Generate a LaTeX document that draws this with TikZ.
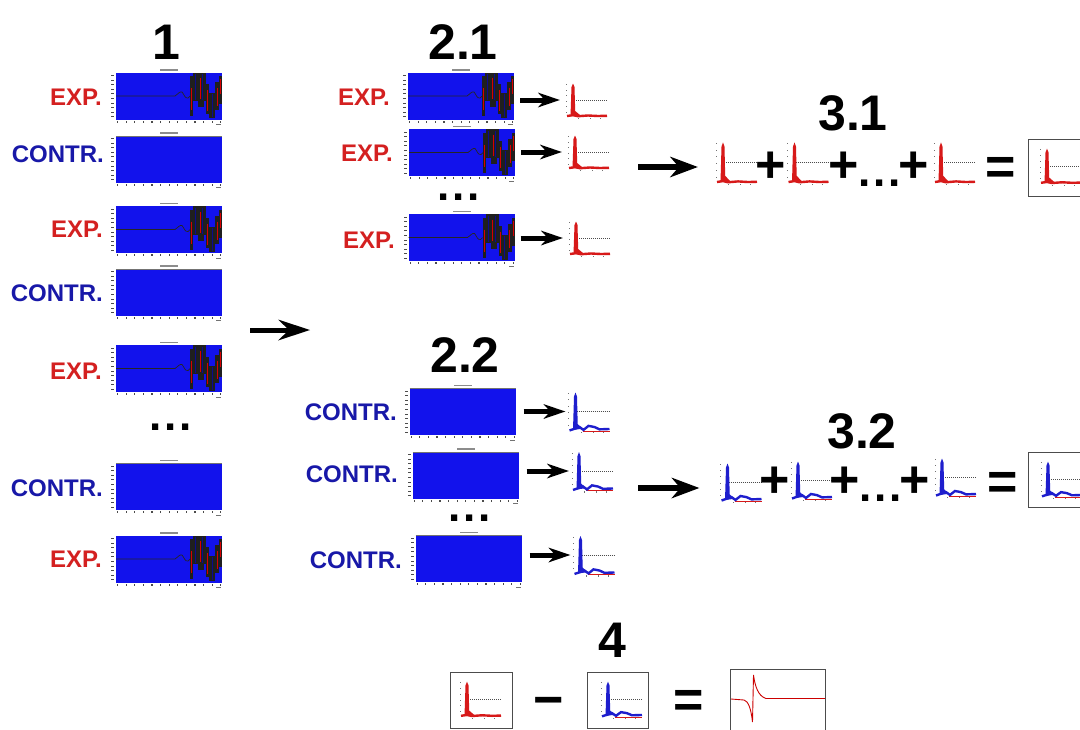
\documentclass[tikz,border=0pt]{standalone}
\usepackage{fontspec}
\setmainfont{Liberation Sans}
\usetikzlibrary{arrows.meta,calc}
\definecolor{expred}{RGB}{212,32,32}
\definecolor{contrblue}{RGB}{24,24,168}
\definecolor{plotblue}{RGB}{18,18,236}
\definecolor{spikered}{RGB}{215,25,25}
\definecolor{spikeblue}{RGB}{30,30,205}
\newcommand{\plotticks}{%
  \foreach \k in {0,...,9} \fill[black!70] (-58,{-21+\k*4.6}) rectangle (-55,{-20.2+\k*4.6});
  \foreach \k in {0,...,12} \fill[black!70] ({-52+\k*8.6},24.5) rectangle ({-50.8+\k*8.6},26.5);
  \fill[black!55] (47,28) rectangle (52,29.3);
  \fill[black!45] (-9,-26.6) rectangle (9,-25.4);
}
\newcommand{\spikecore}{%
  \node[minimum width=42pt, minimum height=36pt, inner sep=0pt] (-s) at (0,0) {};
  \foreach \k in {0,...,5} \fill[black!55] (-20.5,{-16+\k*5.5}) rectangle (-19.3,{-15.2+\k*5.5});
  \foreach \xx in {-8,4,14} \fill[black!55] (\xx,17.8) rectangle (\xx+1,18.8);
  \draw[black!70, line width=0.6pt, dash pattern=on 1.2pt off 0.8pt] (-12,0) -- (21,0);
}
\newcommand{\threedots}{\makebox[6pt]{.}\hspace{9pt}\makebox[6pt]{.}\hspace{9pt}\makebox[6pt]{.}}
\tikzset{
  plotbox/.style={fill=plotblue, minimum width=106pt, minimum height=47pt, inner sep=0pt, outer sep=0pt},
  expplot/.pic={
    \node[plotbox] (-p) at (0,0) {};
    \plotticks
    \draw[black!85, line width=0.7pt] (-53,0) -- (6,0) .. controls (9,-2) and (11,-5) .. (13,-4) .. controls (15,-2) and (16,3) .. (19,2) -- (21,0);
    \fill[black!88] (21,-20) rectangle (24,20);
    \fill[black!88] (24,-23.5) rectangle (37,5);
    \fill[black!88] (29,5) rectangle (35,11);
    \fill[black!88] (37,-12) rectangle (40,18);
    \fill[black!88] (40,-3) rectangle (46,22);
    \fill[black!88] (46,-14) rectangle (50,14);
    \fill[black!88] (50,-20) rectangle (53,8);
    \draw[plotblue!60!black, line width=0.6pt] (26.5,-22) -- (26.5,4) (33.5,-22) -- (33.5,4) (43,-2) -- (43,21);
    \draw[red!85!black, line width=1pt] (22.5,-8) -- (22.5,14) (31,-18) -- (31,3) (38.5,-6) -- (38.5,15) (48,-8) -- (48,10) (51.5,-17) -- (51.5,-2);
  },
  contrplot/.pic={
    \node[plotbox] (-p) at (0,0) {};
    \plotticks
    \draw[black!55, line width=0.9pt] (-53,-23) -- (53,-23);
  },
  rspike/.pic={
    \spikecore
    \fill[spikered] (-15.5,16) -- (-14.5,-13) -- (-13,-16.5) -- (-11.5,-13) -- (-10.8,11) -- (-6,15) -- cycle;
    \draw[spikered, line width=2.4pt] (-19,16) -- (-13,15.2) -- (-8,16.2) -- (2,15.5) -- (12,16) -- (21,15.8);
  },
  bspike/.pic={
    \spikecore
    \draw[spikered, line width=0.8pt] (-6,17.2) -- (21,17.2);
    \fill[spikeblue] (-15.5,16) -- (-14.5,-13) -- (-13,-16.5) -- (-11.5,-13) -- (-10.8,11) -- (-6,15) -- cycle;
    \draw[spikeblue, line width=2.4pt] (-19,16.5) -- (-14,15) -- (-9,13.5) -- (-5,16) -- (0,12.5) -- (6,13.5) -- (11,15.5) -- (21,15.2);
  },
  ttl/.style={font=\bfseries\fontsize{50}{50}\selectfont, inner sep=0pt},
  explbl/.style={font=\bfseries\fontsize{24}{24}\selectfont, text=expred, inner sep=0pt, anchor=east},
  contrlbl/.style={font=\bfseries\fontsize{24}{24}\selectfont, text=contrblue, inner sep=0pt, anchor=east},
  opT/.style={font=\bfseries\fontsize{52}{52}\selectfont, inner sep=0pt, anchor=base},
  dotsT/.style={font=\bfseries\fontsize{44}{44}\selectfont, inner sep=0pt, anchor=base},
  resbox/.style={draw=black!70, line width=1pt, inner sep=0pt},
  arrowS/.style={line width=5pt, -{Stealth[length=22pt,width=15pt,inset=7pt,line width=0pt]}},
  arrowM/.style={line width=5pt, -{Stealth[length=32pt,width=21pt,inset=11pt,line width=0pt]}},
  arrowL/.style={line width=6.5pt, -{Stealth[length=28pt,width=21pt,inset=9pt,line width=0pt]}},
}
\begin{document}
\begin{tikzpicture}[x=1pt,y=-1pt]
\useasboundingbox (0,0) rectangle (1080,729);
\clip (0,0) rectangle (1080,729);
\fill[white] (0,0) rectangle (1080,729);

% titles
\node[ttl] (t1) at (166,42) {1};
\node[ttl] (t21) at (463,42) {2.1};
\node[ttl] (t22) at (465,355) {2.2};
\node[ttl] (t31) at (853,113) {3.1};
\node[ttl] (t32) at (862,431) {3.2};
\node[ttl] (t4) at (612,640) {4};

% column 1
\pic (c1) at (169,96) {expplot};
\pic (c2) at (169,159) {contrplot};
\pic (c3) at (169,229.5) {expplot};
\pic (c4) at (169,292) {contrplot};
\pic (c5) at (169,368.5) {expplot};
\pic (c7) at (169,486.5) {contrplot};
\pic (c8) at (169,559) {expplot};
\node[explbl] (l1) at (102,97) {EXP.};
\node[contrlbl] (l2) at (104,154) {CONTR.};
\node[explbl] (l3) at (103,229) {EXP.};
\node[contrlbl] (l4) at (103,293) {CONTR.};
\node[explbl] (l5) at (102,371) {EXP.};
\node[contrlbl] (l7) at (103,488) {CONTR.};
\node[explbl] (l8) at (102,559) {EXP.};
\node[dotsT] (d1) at (171,430) {\threedots};

\coordinate (m1) at (250,330);
\coordinate (m2) at (310,330);
\draw[arrowM] (m1) -- (m2);

% column 2.1
\pic (p1) at (461,96) {expplot};
\pic (p2) at (462,152.5) {expplot};
\pic (p3) at (461.5,237.5) {expplot};
\node[explbl] (e1) at (390,97) {EXP.};
\node[explbl] (e2) at (393,153) {EXP.};
\node[explbl] (e3) at (395,240) {EXP.};
\node[dotsT] (d21) at (459,200) {\threedots};
\pic (s1) at (586,100) {rspike};
\pic (s2) at (588,152) {rspike};
\pic (s3) at (589,238) {rspike};
\draw[arrowS] ($(p1-p.east |- s1-s.west)+(6,0)$) -- ($(s1-s.west)+(-5,0)$);
\draw[arrowS] ($(p2-p.east |- s2-s.west)+(6,0)$) -- ($(s2-s.west)+(-5,0)$);
\draw[arrowS] ($(p3-p.east |- s3-s.west)+(6,0)$) -- ($(s3-s.west)+(-5,0)$);

% column 2.2
\pic (q1) at (462.5,411.5) {contrplot};
\pic (q2) at (465.5,475) {contrplot};
\pic (q3) at (468.5,558.5) {contrplot};
\node[contrlbl] (k1) at (397,412) {CONTR.};
\node[contrlbl] (k2) at (398,474) {CONTR.};
\node[contrlbl] (k3) at (402,560) {CONTR.};
\node[dotsT] (d22) at (470,521) {\threedots};
\pic[yscale=1.15] (r1) at (588.5,411.5) {bspike};
\pic[yscale=1.15] (r2) at (592,471) {bspike};
\pic[yscale=1.15] (r3) at (593.5,555) {bspike};
\draw[arrowS] ($(q1-p.east |- r1-s.west)+(8,0)$) -- ($(r1-s.west)+(-2,0)$);
\draw[arrowS] ($(q2-p.east |- r2-s.west)+(8,0)$) -- ($(r2-s.west)+(-2,0)$);
\draw[arrowS] ($(q3-p.east |- r3-s.west)+(8,0)$) -- ($(r3-s.west)+(-2,0)$);

% section 3.1
\coordinate (a31) at (638,167);
\pic[yscale=1.22] (u1) at (736,162.5) {rspike};
\pic[yscale=1.22] (u2) at (807.5,162.5) {rspike};
\pic[yscale=1.22] (u3) at (954,162.5) {rspike};
\draw[arrowL] (a31) -- ($(a31 -| u1-s.west)+(-17,0)$);
\node[opT] (pl1) at (771,182) {+};
\node[opT] (pl2) at (844,182) {+};
\node[opT] (pl3) at (914,182) {+};
\node[dotsT] (d31) at (880,186) {\threedots};
\node[opT] (eq1) at (1001,184) {=};
\node[resbox, minimum width=64pt, minimum height=57pt] (b31) at (1060,167.5) {};
\pic[yscale=1.05] (v1) at (1060,166) {rspike};

% section 3.2
\coordinate (a32) at (638,488);
\pic[yscale=1.12] (w1) at (740.5,482) {bspike};
\pic[yscale=1.12] (w2) at (811,480) {bspike};
\pic[yscale=1.12] (w3) at (955,477) {bspike};
\draw[arrowL] (a32) -- ($(a32 -| w1-s.west)+(-20,0)$);
\node[opT] (pl4) at (775,497) {+};
\node[opT] (pl5) at (845,497) {+};
\node[opT] (pl6) at (915,497) {+};
\node[dotsT] (d32) at (881,501) {\threedots};
\node[opT] (eq2) at (1003,499) {=};
\node[resbox, minimum width=64pt, minimum height=55pt] (b32) at (1060,479.5) {};
\pic[yscale=1.05] (v2) at (1061,479) {bspike};

% section 4
\node[resbox, minimum width=62pt, minimum height=56pt] (f1) at (481,700) {};
\pic[yscale=1.05] (g1) at (480,699) {rspike};
\node[opT] (mi) at (549,717) {−};
\node[resbox, minimum width=61pt, minimum height=56pt] (f2) at (617.5,700) {};
\pic[yscale=1.05] (g2) at (621,699) {bspike};
\node[opT] (eq3) at (688.5,717) {=};
\node[resbox, minimum width=95pt, minimum height=62pt] (f3) at (777.5,700) {};
\draw[red!80!black, line width=0.9pt] (731,699) -- (744,700) .. controls (748,701) and (751,708) .. (752.5,722) -- (753.5,675) .. controls (755,686) and (758,696) .. (766,698.5) -- (825,698.5);
\end{tikzpicture}
\end{document}
